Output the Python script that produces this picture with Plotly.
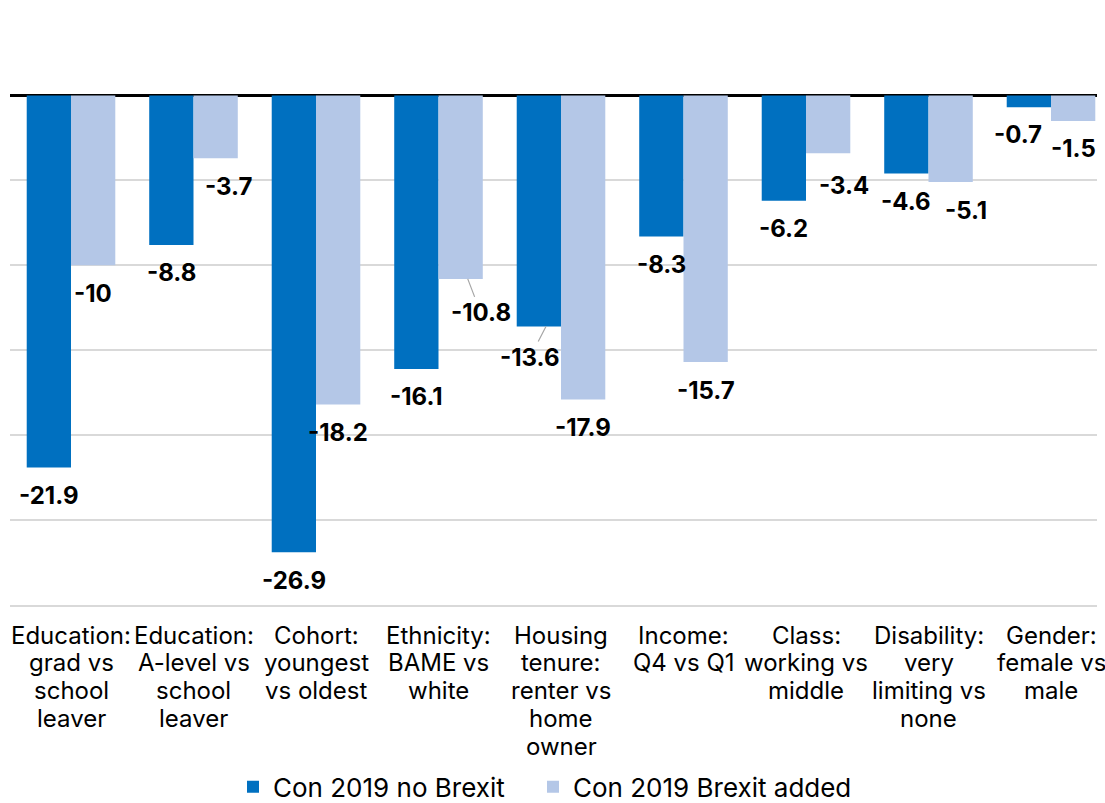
import plotly.graph_objects as go

categories = [
    ["Education:", "grad vs", "school", "leaver"],
    ["Education:", "A-level vs", "school", "leaver"],
    ["Cohort:", "youngest", "vs oldest"],
    ["Ethnicity:", "BAME vs", "white"],
    ["Housing", "tenure:", "renter vs", "home", "owner"],
    ["Income:", "Q4 vs Q1"],
    ["Class:", "working vs", "middle"],
    ["Disability:", "very", "limiting vs", "none"],
    ["Gender:", "female vs", "male"],
]
no_brexit = [-21.9, -8.8, -26.9, -16.1, -13.6, -8.3, -6.2, -4.6, -0.7]
brexit_added = [-10, -3.7, -18.2, -10.8, -17.9, -15.7, -3.4, -5.1, -1.5]

series_names = ["Con 2019 no Brexit", "Con 2019 Brexit added"]
colors = ["#0070C0", "#B4C7E7"]

FONT = "Inter, Roboto, Arial, sans-serif"
BARGAP = 0.277
half = (1 - BARGAP) / 4  # centre offset of each bar within a group
LINE_H = 27.75           # line height of the category labels (px)

# pixel nudges (dx, dy) for labels that would otherwise collide
nudges = {(1, 1): (13, 0), (1, 6): (16, -4), (1, 7): (15, 0), (0, 8): (-11, 1)}
# labels drawn with a leader line: (x offset in data units, ax, ay)
leader = {(1, 3): (0.058, 13, 34), (0, 4): (0.058, -16, 31)}

x_idx = list(range(len(categories)))
fig = go.Figure()
for k, (name, vals, col) in enumerate(zip(series_names, [no_brexit, brexit_added], colors)):
    fig.add_trace(go.Bar(
        x=x_idx, y=vals, name=name,
        marker=dict(color=col, line=dict(width=0)),
        legend="legend" if k == 0 else "legend2",
    ))

annotations = []
for s, vals in enumerate([no_brexit, brexit_added]):
    for i, v in enumerate(vals):
        xc = i + (-half if s == 0 else half)
        label = f"<b>{v:g}</b>"
        font = dict(family=FONT, size=24, color="#000")
        if (s, i) in leader:
            dx, ax, ay = leader[(s, i)]
            annotations.append(dict(
                x=xc + dx, y=v, text=label, showarrow=True,
                arrowhead=0, arrowwidth=1.2, arrowcolor="#A6A6A6",
                ax=ax, ay=ay, standoff=0, font=font,
            ))
        else:
            nx, ny = nudges.get((s, i), (0, 0))
            annotations.append(dict(
                x=xc, y=v, text=label, showarrow=False,
                yanchor="middle", xshift=nx, yshift=-28 + ny, font=font,
            ))

# category labels, one line each, below the plot area
for i, lines in enumerate(categories):
    for k, line in enumerate(lines):
        annotations.append(dict(
            x=i, xref="x", y=0, yref="paper", text=line, showarrow=False,
            xanchor="center", yanchor="middle", yshift=-(30 + k * LINE_H),
            font=dict(family=FONT, size=24, color="#000"),
        ))

legend_style = dict(
    orientation="h", xref="container", xanchor="left",
    yref="container", y=0.02, yanchor="middle",
    font=dict(family=FONT, size=26, color="#000"),
    itemwidth=30, bgcolor="rgba(0,0,0,0)",
)

fig.update_layout(
    width=1105, height=803,
    margin=dict(l=10, r=8, t=10, b=198, autoexpand=False),
    paper_bgcolor="white", plot_bgcolor="white",
    barmode="group", bargap=BARGAP, bargroupgap=0,
    font=dict(family=FONT, size=24, color="#000"),
    annotations=annotations,
    showlegend=True,
    legend=dict(x=233 / 1105, **legend_style),
    legend2=dict(x=533 / 1105, **legend_style),
    xaxis=dict(
        range=[-0.498, 8.3755],
        showgrid=False, zeroline=False,
        showline=True, linecolor="#D9D9D9", linewidth=2, mirror=False,
        showticklabels=False, ticks="", automargin=False,
        fixedrange=True,
    ),
    yaxis=dict(
        range=[-30, 5.03], dtick=5, tick0=0,
        showticklabels=False, ticks="", automargin=False,
        showgrid=True, gridcolor="#D9D9D9", gridwidth=2,
        zeroline=True, zerolinecolor="#000", zerolinewidth=3,
        showline=False, fixedrange=True,
    ),
)

fig.write_html("out.html")
